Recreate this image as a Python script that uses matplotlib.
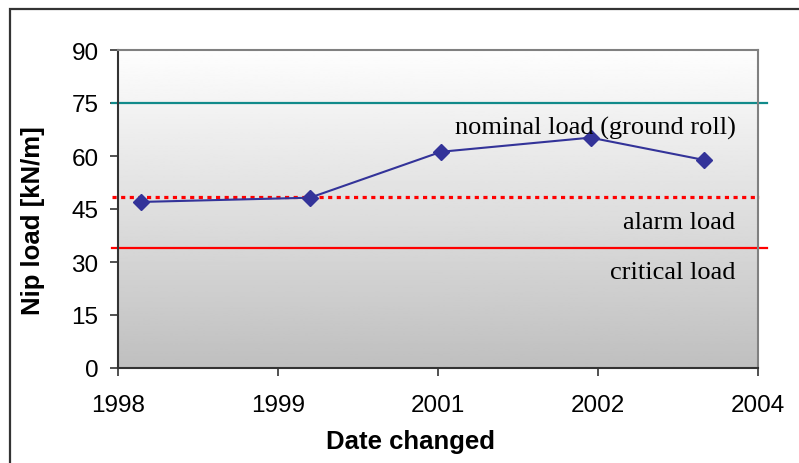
import numpy as np
import matplotlib
matplotlib.use("Agg")
import matplotlib.pyplot as plt
from matplotlib.ticker import FixedLocator, FuncFormatter
from matplotlib.patches import Rectangle

# data (date changed as decimal year, nip load in kN/m)
fecha = [1998.22, 1999.80, 2001.03, 2002.43, 2003.49]
carga = [47.0, 48.2, 61.2, 65.2, 58.9]

carga_nominal = 75.0
carga_alarma = 48.5
carga_critica = 34.0

ticks_x = [1998, 1999.5, 2001, 2002.5, 2004]
ticks_y = [0, 15, 30, 45, 60, 75, 90]

sans = "Liberation Sans"
serif = "Liberation Serif"

fig = plt.figure(figsize=(7.99, 4.64), dpi=100)
fig.patch.set_facecolor("white")

W, H = 799, 464
ax = fig.add_axes([118 / W, (H - 369) / H, 640 / W, 318 / H])
ax.set_xlim(1998, 2004)
ax.set_ylim(0, 90)

# gradient background of the plot area
grad = np.linspace(0.75, 0.995, 256).reshape(-1, 1)
ax.imshow(grad, cmap="gray", vmin=0, vmax=1, origin="lower", aspect="auto",
          extent=(1998, 2004, 0, 90), zorder=0)

# reference lines (run a little past the plot area, like drawn shapes)
ax.plot([1997.944, 2004.08], [carga_nominal] * 2, color="#118a8a", lw=1.6,
        clip_on=False, zorder=2)
ax.plot([1997.944, 2004.01], [carga_alarma] * 2, color="#ff0000", lw=2.3,
        linestyle=(0, (1.3, 1.4)), clip_on=False, zorder=2)
ax.plot([1997.944, 2004.08], [carga_critica] * 2, color="#ff0000", lw=1.6,
        clip_on=False, zorder=2)

ax.plot(fecha, carga, color="#333399", lw=1.5, marker="D", markersize=8,
        markerfacecolor="#333399", markeredgecolor="#333399", zorder=3)

ax.text(2003.79, 66.4, "nominal load (ground roll)", ha="right", va="baseline",
        fontsize=19, family=serif, color="black")
ax.text(2003.79, 39.5, "alarm load", ha="right", va="baseline",
        fontsize=19, family=serif, color="black")
ax.text(2003.79, 25.6, "critical load", ha="right", va="baseline",
        fontsize=19, family=serif, color="black")

ax.xaxis.set_major_locator(FixedLocator(ticks_x))
ax.xaxis.set_major_formatter(FuncFormatter(lambda v, p: str(int(np.floor(v + 1e-6)))))
ax.yaxis.set_major_locator(FixedLocator(ticks_y))

for s in ["left", "bottom"]:
    ax.spines[s].set_color("#333333")
    ax.spines[s].set_linewidth(1.5)
for s in ["top", "right"]:
    ax.spines[s].set_color("#808080")
    ax.spines[s].set_linewidth(1.5)

ax.tick_params(axis="both", direction="out", length=6, width=1.2, color="#333333",
               labelsize=17.5, labelcolor="black")
ax.tick_params(axis="y", pad=8)
ax.tick_params(axis="x", pad=13)
for lab in ax.get_xticklabels() + ax.get_yticklabels():
    lab.set_family(sans)

fig.text(410 / W, 1 - 442 / H, "Date changed", ha="center", va="center",
         fontsize=18.5, fontweight="bold", family=sans)
fig.text(33 / W, 1 - 221 / H, "Nip load [kN/m]", ha="center", va="center",
         rotation=90, fontsize=18.5, fontweight="bold", family=sans)

# outer chart frame (cut off at right and bottom)
fig.patches.append(Rectangle((10 / W, -0.05), 1.0, 1 - 10 / H + 0.05,
                             transform=fig.transFigure, fill=False,
                             edgecolor="#333333", lw=1.6))

fig.savefig("out.png", dpi=100)
